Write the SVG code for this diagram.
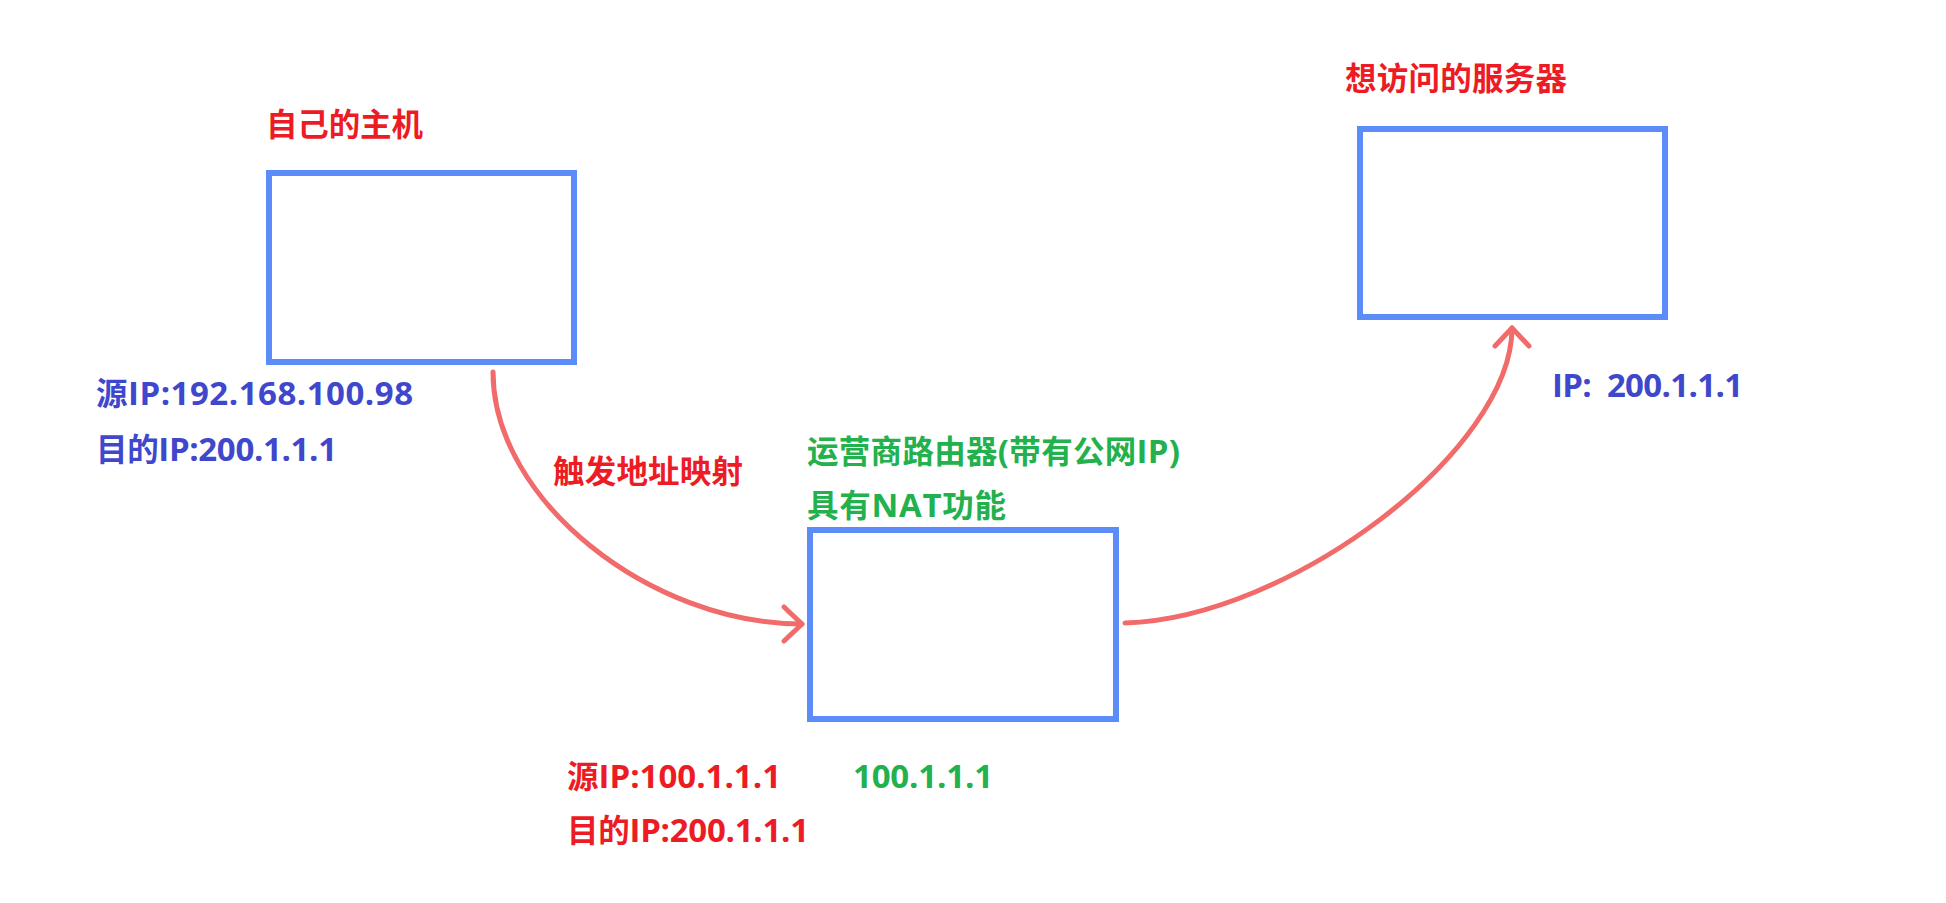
<svg xmlns="http://www.w3.org/2000/svg" width="1946" height="903" viewBox="0 0 1946 903">
  <defs>
    <style>
      .box { fill: #ffffff; stroke: #5b8cf7; stroke-width: 6; }
      .lbl { font-family: "Open Sans", "Noto Sans CJK SC", sans-serif; font-weight: bold; font-size: 33px; }
      .cjk { font-family: "Noto Sans CJK SC", sans-serif; font-size: 31.5px; }
      .red { fill: #ed1c24; }
      .blue { fill: #3f48cc; }
      .green { fill: #22b14c; }
      .conn { fill: none; stroke: #f26b6b; stroke-width: 5; stroke-linecap: round; stroke-linejoin: round; }
    </style>
    <marker id="chev" markerUnits="userSpaceOnUse" markerWidth="40" markerHeight="40" refX="0" refY="0" orient="auto" overflow="visible">
      <path d="M-18,-17 L0,0 L-18,17" fill="none" stroke="#f26b6b" stroke-width="5" stroke-linecap="round" stroke-linejoin="round"/>
    </marker>
  </defs>
  <rect width="1946" height="903" fill="#ffffff"/>

  <g id="connectors">
    <path class="conn" d="M493,372 C493,500 650,624 802,624" marker-end="url(#chev)"/>
    <path class="conn" d="M1125,623 C1290,618 1512,450 1512,328" marker-end="url(#chev)"/>
    <text class="lbl red" x="553" y="483" textLength="190" lengthAdjust="spacing"><tspan class="cjk">触发地址映射</tspan></text>
  </g>

  <g id="host">
    <rect class="box" x="269" y="173" width="305" height="189"/>
    <text class="lbl red" x="266" y="136" textLength="157" lengthAdjust="spacing"><tspan class="cjk">自己的主机</tspan></text>
    <text class="lbl blue" x="96" y="405" textLength="317" lengthAdjust="spacing"><tspan class="cjk">源</tspan>IP:192.168.100.98</text>
    <text class="lbl blue" x="96" y="461" textLength="241" lengthAdjust="spacing"><tspan class="cjk">目的</tspan>IP:200.1.1.1</text>
  </g>

  <g id="router">
    <rect class="box" x="810" y="530" width="306" height="189"/>
    <text class="lbl green" x="807" y="463" textLength="373" lengthAdjust="spacing"><tspan class="cjk">运营商路由器</tspan>(<tspan class="cjk">带有公网</tspan>IP)</text>
    <text class="lbl green" x="807" y="517" textLength="199" lengthAdjust="spacing"><tspan class="cjk">具有</tspan>NAT<tspan class="cjk">功能</tspan></text>
    <text class="lbl red" x="567" y="788" textLength="214" lengthAdjust="spacing"><tspan class="cjk">源</tspan>IP:100.1.1.1</text>
    <text class="lbl green" x="853" y="788" textLength="140" lengthAdjust="spacing">100.1.1.1</text>
    <text class="lbl red" x="567" y="842" textLength="242" lengthAdjust="spacing"><tspan class="cjk">目的</tspan>IP:200.1.1.1</text>
  </g>

  <g id="server">
    <rect class="box" x="1360" y="129" width="305" height="188"/>
    <text class="lbl red" x="1345" y="90" textLength="222" lengthAdjust="spacing"><tspan class="cjk">想访问的服务器</tspan></text>
    <text class="lbl blue" x="1552" y="397" textLength="191" lengthAdjust="spacing" xml:space="preserve">IP:  200.1.1.1</text>
  </g>
</svg>
